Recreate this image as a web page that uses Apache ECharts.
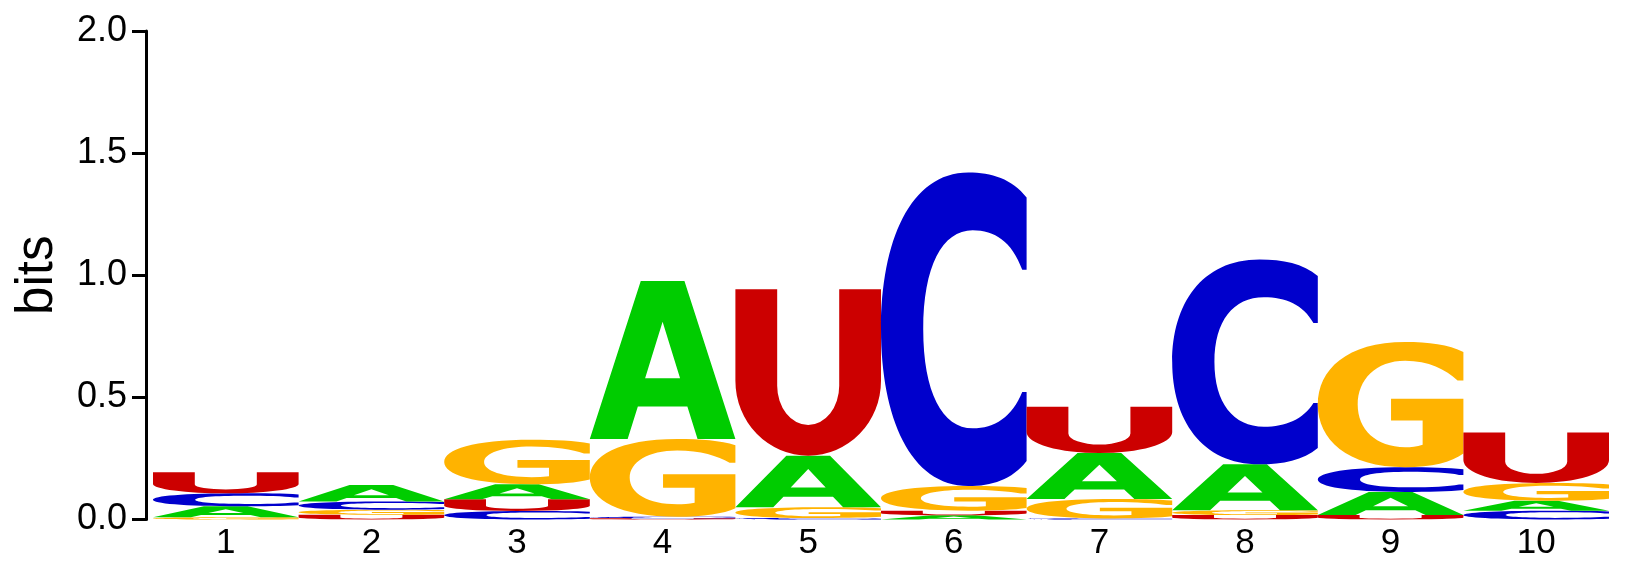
<!DOCTYPE html>
<html>
<head>
<meta charset="utf-8">
<title>logo</title>
<script src="https://cdn.jsdelivr.net/npm/echarts@6/dist/echarts.min.js"></script>
<style>
  html, body { margin: 0; padding: 0; background: #fff; }
  #main { width: 1630px; height: 565px; }
</style>
</head>
<body>
<div id="main"></div>
<script>
// positions
var positions = ['1', '2', '3', '4', '5', '6', '7', '8', '9', '10'];
// letters
var letters = ['A', 'C', 'G', 'U'];
// bits per letter, per position
var bitsA = [0.045, 0.067, 0.061, 0.646, 0.211, 0.017, 0.188, 0.188, 0.095, 0.041];
var bitsC = [0.053, 0.034, 0.035, 0.006, 0.006, 1.284, 0.004, 0.838, 0.101, 0.036];
var bitsG = [0.009, 0.021, 0.182, 0.319, 0.044, 0.101, 0.080, 0.020, 0.513, 0.072];
var bitsU = [0.086, 0.019, 0.048, 0.005, 0.682, 0.019, 0.190, 0.018, 0.018, 0.207];
// y ticks
var yTicks = [0, 0.5, 1, 1.5, 2];

var colors = ['#00cc00', '#0000cc', '#ffb300', '#cc0000'];

// glyph outlines in a 100x100 box, stretched to each letter's box
var glyphs = [
  // A
  'M0 100 L35 0 L65 0 L100 100 L74 100 L67 79.5 L33 79.5 L26 100 Z ' +
  'M38 61.6 L62 61.6 L50 25.7 Z',
  // C
  'M100 8 C90 2 76 0 60 0 C20 0 0 22 0 50 C0 78 20 100 60 100 C76 100 90 98 100 92 ' +
  'L100 70 L97 70 C90 78 78 81.6 63 81.6 C42 81.6 29 70 29 50 C29 30 42 18.4 63 18.4 ' +
  'C78 18.4 90 22 97 31 L100 31 Z',
  // G
  'M100 8 C90 2 76 0 60 0 C20 0 0 22 0 50 C0 78 20 100 60 100 C78 100 92 96 100 89 ' +
  'L100 45.3 L50.3 45.3 L50.3 62.7 L72 62.7 L72 82 C68 83.5 64 84 60 84 ' +
  'C40 84 27.4 70 27.4 50 C27.4 30 40 15 60 15 C76 15 88 22 96 30.7 L100 30.7 Z',
  // U
  'M0 0 L28.7 0 L28.7 58 A21.3 23.6 0 0 0 71.3 58 L71.3 0 L100 0 L100 55 ' +
  'A50 45 0 0 1 0 55 Z'
];

// stack: smallest letter at the bottom
var stacks = [];
positions.forEach(function(p, i) {
  var col = [
    { k: 0, v: bitsA[i] }, { k: 1, v: bitsC[i] },
    { k: 2, v: bitsG[i] }, { k: 3, v: bitsU[i] }
  ];
  col.sort(function(a, b) { return a.v - b.v; });
  var base = 0;
  col.forEach(function(c) {
    stacks.push([i, base, base + c.v, c.k]);
    base += c.v;
  });
});

function renderItem(params, api) {
  var x = api.value(0);
  var p0 = api.coord([x, api.value(1)]);
  var p1 = api.coord([x, api.value(2)]);
  var w = api.size([1, 0])[0];
  var k = api.value(3);
  return {
    type: 'path',
    shape: {
      pathData: glyphs[k],
      x: p0[0] - w / 2,
      y: p1[1],
      width: w,
      height: Math.max(p0[1] - p1[1], 0.01),
      layout: 'cover'
    },
    style: { fill: colors[k] }
  };
}

var myChart = echarts.init(document.getElementById('main'));
myChart.setOption({
  animation: false,
  backgroundColor: '#fff',
  textStyle: { fontFamily: 'Liberation Sans, Arial, sans-serif' },
  grid: { left: 153, right: 21, top: 31, bottom: 45.5 },
  xAxis: {
    type: 'category',
    data: positions,
    axisLine: { show: false },
    axisTick: { show: false },
    axisLabel: { fontSize: 35, color: '#000', margin: 6 }
  },
  yAxis: {
    type: 'value',
    min: yTicks[0],
    max: yTicks[yTicks.length - 1],
    interval: 0.5,
    offset: 7,
    name: 'bits',
    nameLocation: 'middle',
    nameGap: 83,
    nameTextStyle: { fontSize: 51, color: '#000' },
    axisLine: { show: true, lineStyle: { color: '#000', width: 3 } },
    axisTick: { show: true, length: 14, lineStyle: { color: '#000', width: 3 } },
    axisLabel: {
      fontSize: 36, color: '#000', margin: 19,
      formatter: function(v) { return v.toFixed(1); }
    },
    splitLine: { show: false }
  },
  series: [{
    type: 'custom',
    renderItem: renderItem,
    encode: { x: 0, y: [1, 2] },
    data: stacks
  }]
});
</script>
</body>
</html>
